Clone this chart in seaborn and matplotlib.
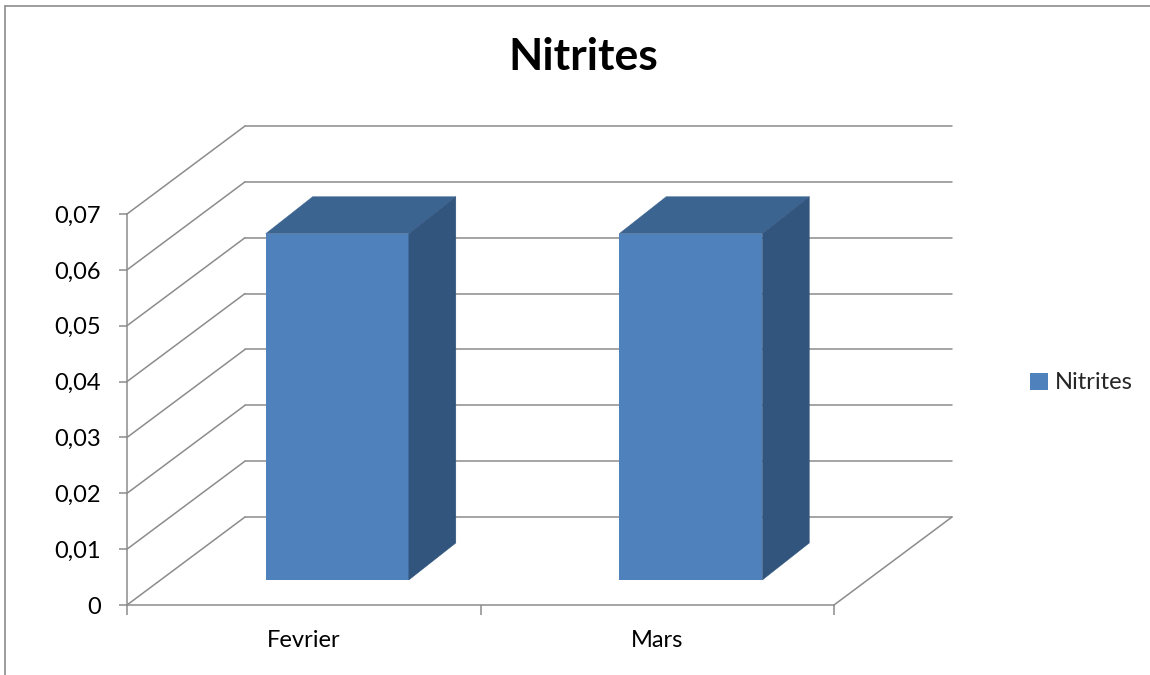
import numpy as np
import pandas as pd
import matplotlib
matplotlib.use("Agg")
import matplotlib.pyplot as plt
import seaborn as sns
from matplotlib.patches import Polygon, Patch
from matplotlib.lines import Line2D

# ---- data ----
months = ["Fevrier", "Mars"]
nitrites = [0.062, 0.062]
ytick_values = [0, 0.01, 0.02, 0.03, 0.04, 0.05, 0.06, 0.07]
ytick_labels = ["0", "0,01", "0,02", "0,03", "0,04", "0,05", "0,06", "0,07"]
series_name = "Nitrites"
title = "Nitrites"

sns.set_theme(style="white")
plt.rcParams["font.family"] = ["Lato", "DejaVu Sans"]

W, H = 1150, 675
fig = plt.figure(figsize=(W / 100, H / 100), dpi=100)
fig.patch.set_facecolor("white")

# front plane of the pseudo-3D chart
ax = fig.add_axes([127 / W, (H - 605) / H, (834 - 127) / W, (605 - 214) / H])
df = pd.DataFrame({"Mois": months, "Nitrites": nitrites})
sns.barplot(data=df, x="Mois", y="Nitrites", color="#4F81BD", saturation=1,
            width=0.405, ax=ax, zorder=5)
ax.set_xlim(-0.5, len(months) - 0.5)
ax.set_ylim(0, max(ytick_values))
ax.set_facecolor("none")
ax.set_xlabel("")
ax.set_ylabel("")

# pixel -> data conversion
ppx = ax.bbox.width / (ax.get_xlim()[1] - ax.get_xlim()[0])
ppy = ax.bbox.height / (ax.get_ylim()[1] - ax.get_ylim()[0])
def dxp(px):
    return px / ppx
def dyp(py):
    return py / ppy

GRID = "#8C8C8C"
LW = 1.1
# depth of back wall (px)
BX, BY = 118, 88
x0, x1 = ax.get_xlim()

# back wall + left wall grid lines
for v in ytick_values:
    ax.add_line(Line2D([x0, x0 + dxp(BX)], [v, v + dyp(BY)], color=GRID, lw=LW,
                       clip_on=False, zorder=1))
    ax.add_line(Line2D([x0 + dxp(BX), x1 + dxp(BX)], [v + dyp(BY), v + dyp(BY)],
                       color=GRID, lw=LW, clip_on=False, zorder=1))
# floor right edge
ax.add_line(Line2D([x1, x1 + dxp(BX)], [0, dyp(BY)], color=GRID, lw=LW,
                   clip_on=False, zorder=1))

# bars: shift front faces into depth and add top & side faces
F_X, F_Y = 33.5, 25      # front face depth offset (px)
D_X, D_Y = 47, 37        # bar depth (px)
TOP = "#3C6491"
SIDE = "#32557E"
for p in ax.patches:
    bx, bw, bh = p.get_x(), p.get_width(), p.get_height()
    ox, oy = dxp(F_X), dyp(F_Y)
    p.set_x(bx + ox)
    p.set_y(oy)
    p.set_clip_on(False)
    p.set_edgecolor("none")
    L, R, T, B = bx + ox, bx + bw + ox, bh + oy, oy
    ddx, ddy = dxp(D_X), dyp(D_Y)
    top = Polygon([[L, T], [R, T], [R + ddx, T + ddy], [L + ddx, T + ddy]],
                  closed=True, facecolor=TOP, edgecolor=TOP, lw=0.3, clip_on=False, zorder=5)
    side = Polygon([[R, B], [R, T], [R + ddx, T + ddy], [R + ddx, B + ddy]],
                   closed=True, facecolor=SIDE, edgecolor=SIDE, lw=0.3, clip_on=False, zorder=5)
    ax.add_patch(top)
    ax.add_patch(side)

# spines
for s in ["top", "right"]:
    ax.spines[s].set_visible(False)
for s in ["left", "bottom"]:
    ax.spines[s].set_color(GRID)
    ax.spines[s].set_linewidth(LW)
    ax.spines[s].set_zorder(2)

ax.set_yticks(ytick_values)
ax.set_yticklabels(ytick_labels)
ax.set_xticks(range(len(months)))
ax.set_xticklabels(months)
ax.set_xticks(np.arange(-0.5, len(months), 1.0), minor=True)
ax.tick_params(axis="y", which="major", left=True, length=6, width=LW, color=GRID,
               pad=13, labelsize=17, labelcolor="black")
ax.tick_params(axis="x", which="major", bottom=False, length=0, pad=18,
               labelsize=17, labelcolor="black")
ax.tick_params(axis="x", which="minor", bottom=True, length=7, width=LW, color=GRID)

# title
fig.text(583 / W, 1 - 57 / H, title, ha="center", va="center", fontsize=32,
         fontweight="bold", color="black")

# legend
handle = Patch(facecolor="#4F81BD", edgecolor="none", label=series_name)
ax.legend(handles=[handle], loc="center left", bbox_to_anchor=(1030 / W, 1 - 383 / H),
          bbox_transform=fig.transFigure, frameon=False, handlelength=0.75,
          handleheight=0.75, handletextpad=0.3, borderpad=0, borderaxespad=0,
          fontsize=17)

# outer chart border (top and left edges visible)
fig.add_artist(Line2D([5 / W, 1], [1 - 6 / H, 1 - 6 / H], transform=fig.transFigure,
                      color="#8C8C8C", lw=1.2))
fig.add_artist(Line2D([5 / W, 5 / W], [0, 1 - 6 / H], transform=fig.transFigure,
                      color="#8C8C8C", lw=1.2))

fig.savefig("out.png", dpi=100, facecolor="white")
